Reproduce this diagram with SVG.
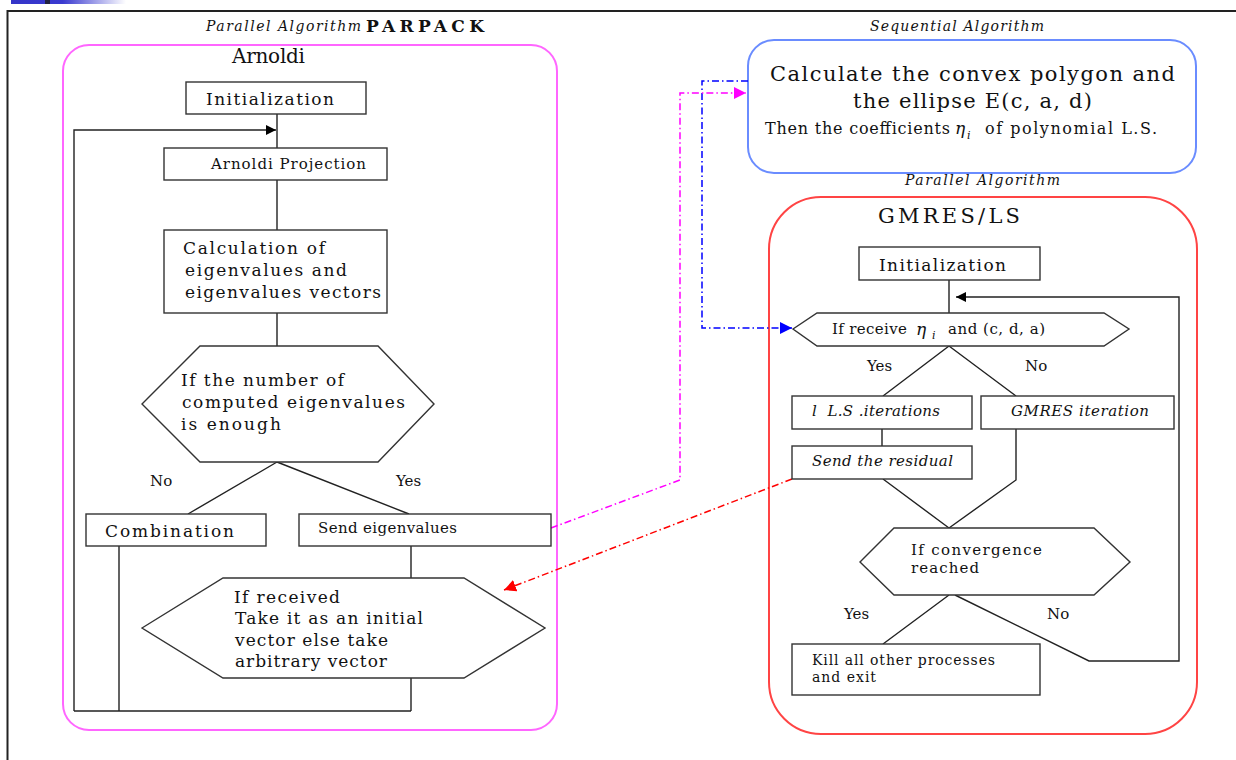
<svg xmlns="http://www.w3.org/2000/svg" width="1236" height="760" viewBox="0 0 1236 760">
<defs>
<linearGradient id="bar" x1="0" x2="1" y1="0" y2="0">
<stop offset="0" stop-color="#3434c8"/>
<stop offset="0.45" stop-color="#3a3ad0"/>
<stop offset="1" stop-color="#ffffff"/>
</linearGradient>
<marker id="ab" viewBox="0 0 10 10" refX="10" refY="5" markerWidth="10" markerHeight="10" markerUnits="userSpaceOnUse" orient="auto"><path d="M0,0 L10,5 L0,10 Z" fill="#000"/></marker>
<marker id="ablue" viewBox="0 0 10 10" refX="10" refY="5" markerWidth="12" markerHeight="12" markerUnits="userSpaceOnUse" orient="auto"><path d="M0,0 L10,5 L0,10 Z" fill="#0000ff"/></marker>
<marker id="amag" viewBox="0 0 10 10" refX="10" refY="5" markerWidth="12" markerHeight="12" markerUnits="userSpaceOnUse" orient="auto"><path d="M0,0 L10,5 L0,10 Z" fill="#ff00ff"/></marker>
<marker id="ared" viewBox="0 0 10 10" refX="10" refY="5" markerWidth="12" markerHeight="12" markerUnits="userSpaceOnUse" orient="auto"><path d="M0,0 L10,5 L0,10 Z" fill="#ff0000"/></marker>
</defs>
<style>
text{font-family:"DejaVu Serif","Liberation Serif",serif;fill:#111;}
.box{fill:#fff;stroke:#333;stroke-width:1.4;}
.ln{fill:none;stroke:#222;stroke-width:1.4;}
.it{font-style:italic;}
.t16{font-size:17px;}
.t14{font-size:15px;}
.t13{font-size:14px;}
.dd{fill:none;stroke-width:1.5;stroke-dasharray:7 3 1.5 3;}
</style>
<rect width="1236" height="760" fill="#fff"/>
<rect x="11" y="0" width="115" height="4" fill="url(#bar)"/>
<rect x="45" y="0" width="5" height="4" fill="#222240"/>
<path d="M1236,11 H7.5 V760" fill="none" stroke="#222" stroke-width="2"/>

<text x="206" y="31" class="it t13" textLength="155">Parallel Algorithm</text>
<text x="366" y="32" font-size="17" font-weight="bold" textLength="118">PARPACK</text>
<text x="870" y="31" class="it t13" textLength="174">Sequential Algorithm</text>
<text x="905" y="185" class="it t13" textLength="155">Parallel Algorithm</text>

<g id="arnoldi">
<rect x="63" y="45" width="494" height="685" rx="26" fill="none" stroke="#ff66ff" stroke-width="2"/>
<text x="232" y="63" font-size="20" textLength="73">Arnoldi</text>
</g>
<g id="seq">
<rect x="748" y="40" width="448" height="133" rx="26" fill="#fff" stroke="#6a8cff" stroke-width="2"/>
<text x="770" y="81" font-size="21" textLength="405">Calculate the convex polygon and</text>
<text x="853" y="108" font-size="21" textLength="239">the ellipse E(c, a, d)</text>
<text x="765" y="134" font-size="16" textLength="185">Then the coefficients</text>
<text x="955" y="134" font-size="17" class="it">η</text>
<text x="967" y="139" font-size="11" class="it">i</text>
<text x="985" y="134" font-size="16" textLength="172">of polynomial L.S.</text>
</g>
<g id="gmres">
<rect x="769" y="197" width="428" height="537" rx="52" fill="none" stroke="#ff4444" stroke-width="2"/>
<text x="878" y="223" font-size="21" textLength="142">GMRES/LS</text>
</g>

<g id="connectors">
<path class="ln" d="M277,114 V148 M277,180 V230 M277,313 V346"/>
<path class="ln" d="M277,462 L188,514 M277,462 L409,514"/>
<path class="ln" d="M119,546 V711 M411,546 V578 M411,678 V711 M74,711 H411"/>
<path class="ln" d="M74,711 V130 H276" marker-end="url(#ab)"/>
<path class="ln" d="M949,280 V313 M949,346 L883,396 M949,346 L1016,396 M882,429 V446"/>
<path class="ln" d="M883,479 L949,528 M1016,429 V480 L949,528"/>
<path class="ln" d="M949,595 L883,644 M955,595 L1089,661 H1179 V297 H956" marker-end="url(#ab)"/>
<path class="dd" stroke="#0000ff" d="M748,81 H702 V328 H792" marker-end="url(#ablue)"/>
<path class="dd" stroke="#ff00ff" d="M551,528 L680,480 V93 H746" marker-end="url(#amag)"/>
<path class="dd" stroke="#ff0000" d="M792,479 L504,590" marker-end="url(#ared)"/>
</g>

<g id="n-init1"><rect class="box" x="186" y="82" width="180" height="32"/><text x="206" y="105" class="t16" textLength="128">Initialization</text></g>
<g id="n-proj"><rect class="box" x="164" y="148" width="223" height="32"/><text x="211" y="169" class="t14" textLength="155">Arnoldi Projection</text></g>
<g id="n-calc"><rect class="box" x="164" y="230" width="223" height="83"/>
<text x="183" y="254" class="t16" textLength="142">Calculation of</text>
<text x="185" y="276" class="t16" textLength="162">eigenvalues and</text>
<text x="185" y="298" class="t16" textLength="196">eigenvalues vectors</text></g>
<g id="n-enough"><polygon class="box" points="142,404 200,346 378,346 434,404 378,462 200,462"/>
<text x="181" y="386" class="t16" textLength="163">If the number of</text>
<text x="182" y="408" class="t16" textLength="223">computed eigenvalues</text>
<text x="181" y="430" class="t16" textLength="100">is enough</text></g>
<text x="150" y="486" class="t14">No</text>
<text x="396" y="486" class="t14">Yes</text>
<g id="n-comb"><rect class="box" x="86" y="514" width="180" height="32"/><text x="105" y="537" class="t16" textLength="129">Combination</text></g>
<g id="n-send"><rect class="box" x="299" y="514" width="252" height="32"/><text x="318" y="533" class="t14" textLength="139">Send eigenvalues</text></g>
<g id="n-recv"><polygon class="box" points="142,628 223,578 464,578 545,628 464,678 223,678"/>
<text x="234" y="603" class="t16" textLength="106">If received</text>
<text x="235" y="624" class="t16" textLength="188">Take it as an initial</text>
<text x="235" y="646" class="t16" textLength="153">vector else take</text>
<text x="235" y="667" class="t16" textLength="152">arbitrary vector</text></g>

<g id="n-init2"><rect class="box" x="859" y="247" width="181" height="33"/><text x="879" y="271" class="t16" textLength="127">Initialization</text></g>
<g id="n-receive"><polygon class="box" points="793,329 817,313 1104,313 1129,329 1104,346 817,346"/>
<text x="832" y="334" class="t14" textLength="75">If receive</text>
<text x="916" y="335" font-size="17" class="it">η</text>
<text x="932" y="339" font-size="11" class="it">i</text>
<text x="948" y="334" class="t14" textLength="97">and (c, d, a)</text></g>
<text x="867" y="371" class="t14">Yes</text>
<text x="1025" y="371" class="t14">No</text>
<g id="n-ls"><rect class="box" x="792" y="396" width="180" height="33"/><text x="812" y="416" class="t14 it" textLength="128" xml:space="preserve">l  L.S .iterations</text></g>
<g id="n-gm"><rect class="box" x="981" y="396" width="193" height="33"/><text x="1011" y="416" class="t14 it" textLength="138">GMRES iteration</text></g>
<g id="n-res"><rect class="box" x="792" y="446" width="180" height="33"/><text x="812" y="466" class="t14 it" textLength="141">Send the residual</text></g>
<g id="n-conv"><polygon class="box" points="860,562 894,528 1094,528 1130,562 1094,595 894,595"/>
<text x="911" y="555" class="t14" textLength="131">If convergence</text>
<text x="911" y="573" class="t14" textLength="68">reached</text></g>
<text x="844" y="619" class="t14">Yes</text>
<text x="1047" y="619" class="t14">No</text>
<g id="n-kill"><rect class="box" x="792" y="644" width="248" height="51"/>
<text x="812" y="665" class="t13" textLength="183">Kill all other processes</text>
<text x="812" y="682" class="t13" textLength="64">and exit</text></g>
</svg>
